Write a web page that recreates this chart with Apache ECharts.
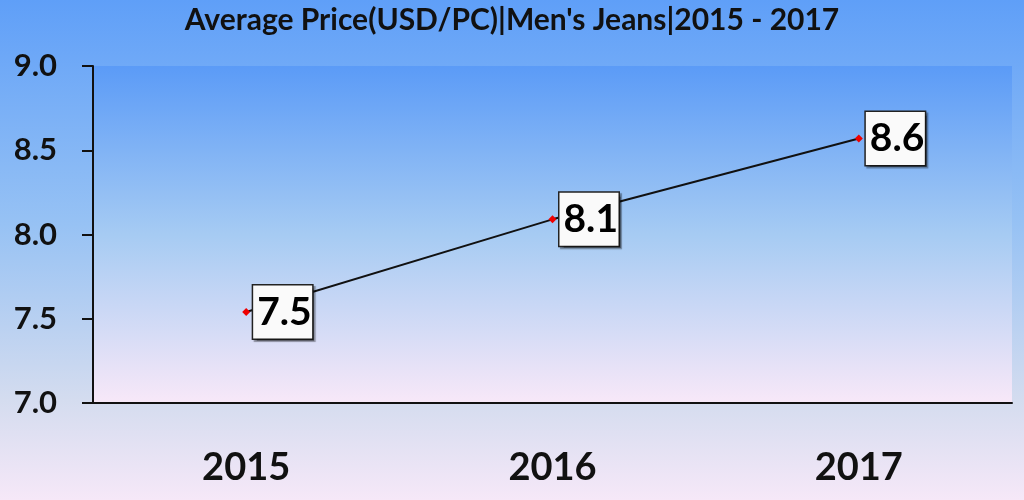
<!DOCTYPE html>
<html><head><meta charset="utf-8">
<script src="https://cdn.jsdelivr.net/npm/echarts@6/dist/echarts.min.js"></script>
<style>html,body{margin:0;padding:0}#c{width:1024px;height:500px}</style>
</head><body><div id="c"></div>
<script>
var titleText = "Average Price(USD/PC)|Men's Jeans|2015 - 2017";
var categories = ['2015', '2016', '2017'];
var values = [7.54, 8.09, 8.57];
var valueLabels = ['7.5', '8.1', '8.6'];
var yMin = 7.0, yMax = 9.0, yStep = 0.5;

var chart = echarts.init(document.getElementById('c'));
var font = 'Lato, "Open Sans", sans-serif';
chart.setOption({
  animation: false,
  backgroundColor: {type:'linear', x:0, y:0, x2:0, y2:1, colorStops:[
    {offset:0, color:'#5f9ff8'},{offset:0.45, color:'#97c2f4'},{offset:0.8, color:'#d4dcef'},{offset:1, color:'#f6e8f8'}]},
  title: {text: titleText, left: 'center', top: 0,
    textStyle:{fontFamily:font, fontWeight:'bold', fontSize:30, color:'#111'}},
  grid: {left: 93, right: 12, top: 66, bottom: 97, show: true, borderWidth: 0,
    backgroundColor: {type:'linear', x:0, y:0, x2:0, y2:1, colorStops:[
      {offset:0, color:'#5b9bf7'},{offset:0.5, color:'#a6cbf3'},{offset:1, color:'#f8e8f8'}]}},
  xAxis: {type:'category', data: categories, boundaryGap: true,
    axisLine:{lineStyle:{color:'#111', width:2}},
    axisTick:{show:false},
    axisLabel:{fontFamily:font, fontWeight:'bold', fontSize:38, color:'#111', margin:46}},
  yAxis: {type:'value', min:yMin, max:yMax, interval:yStep,
    axisLine:{show:true, lineStyle:{color:'#111', width:2}},
    axisTick:{show:true, length:11, lineStyle:{color:'#111', width:2}},
    splitLine:{show:false},
    axisLabel:{fontFamily:font, fontWeight:'bold', fontSize:31, color:'#111', margin:36,
      formatter: function(v){return v.toFixed(1);}}},
  series: [{type:'line', data: values, symbol:'diamond', symbolSize:8,
    itemStyle:{color:'#ee0000'},
    lineStyle:{color:'#111', width:2},
    label:{show:true, position:'right', distance:3,
      formatter: function(p){return valueLabels[p.dataIndex];},
      fontFamily:font, fontWeight:'bold', fontSize:39, color:'#000',
      backgroundColor:'#fafafa', borderColor:'#222', borderWidth:1.5,
      padding:[5,3,4,4], width:52, height:44, lineHeight:44, align:'left', verticalAlign:'middle',
      shadowColor:'rgba(0,0,0,0.35)', shadowOffsetX:2, shadowOffsetY:2, shadowBlur:1}}]
});
</script></body></html>
